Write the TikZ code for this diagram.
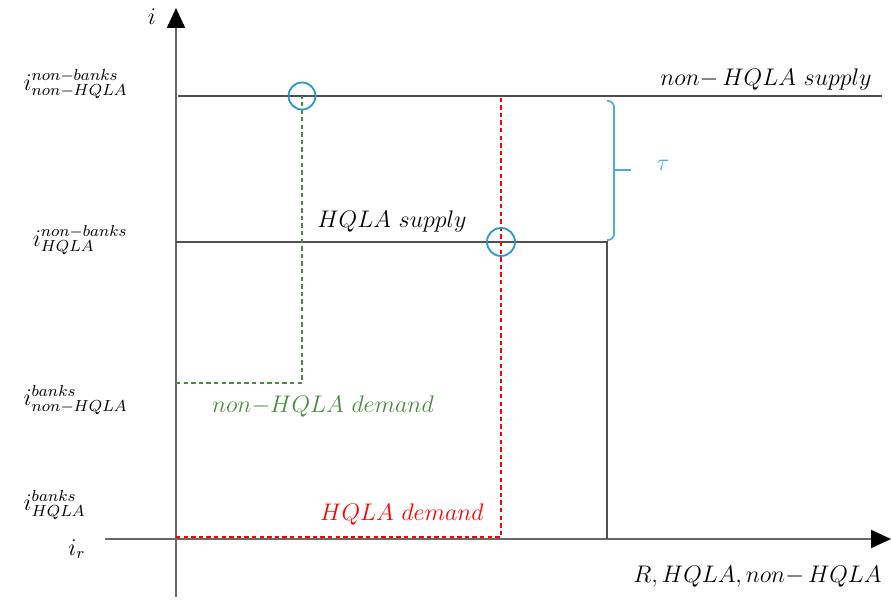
\documentclass[tikz,border=0pt]{standalone}
\usetikzlibrary{arrows.meta}
\definecolor{axisgrey}{RGB}{105,105,105}
\definecolor{linegrey}{RGB}{80,80,80}
\definecolor{demgreen}{RGB}{70,140,60}
\definecolor{eqblue}{RGB}{40,150,210}
\definecolor{taublue}{RGB}{80,170,225}
\tikzset{
  axis/.style={axisgrey, line width=1.1pt, -{Triangle[length=10pt,width=9pt,black]}},
  supply/.style={linegrey, line width=1pt},
  demand/.style={line width=0.8pt, dash pattern=on 2.2pt off 1.6pt},
  eqpoint/.style={eqblue, line width=0.9pt},
  lbl/.style={font=\large, inner sep=0pt}
}
\begin{document}
\begin{tikzpicture}[x=0.5pt, y=-0.5pt]
\useasboundingbox (0,0) rectangle (891,603);

% axes
\coordinate (O) at (176,539);
\coordinate (ytop) at (176,8);
\coordinate (ybot) at (176,597);
\coordinate (xleft) at (105,539);
\coordinate (xright) at (891,539);
\draw[axisgrey, line width=1.1pt] (ybot) -- (O);
\draw[axis] (O) -- (ytop);
\draw[axis] (xleft) -- (xright);
\node[lbl] (ilab) at (152,17) {$i$};
\node[lbl, anchor=east] (xlab) at (882,577) {$R, HQLA, non{-}\,HQLA$};

% interest rate levels
\node[lbl, anchor=east] (inhn) at (128,84) {$i^{non{-}banks}_{non{-}HQLA}$};
\node[lbl, anchor=east] (ihn) at (128,240) {$i^{non{-}banks}_{HQLA}$};
\node[lbl, anchor=east] (inhb) at (128,400) {$i^{banks}_{non{-}HQLA}$};
\node[lbl, anchor=east] (ihb) at (86,505) {$i^{banks}_{HQLA}$};
\node[lbl, anchor=east] (ir) at (86,549) {$i_r$};

% supply curves
\coordinate (nhs0) at (178,96);
\coordinate (nhs1) at (882,96);
\coordinate (hs0) at (176,242);
\coordinate (hs1) at (607,242);
\coordinate (hs2) at (607,539);
\draw[supply] (nhs0) -- (nhs1);
\draw[supply] (hs0) -- (hs1) -- (hs2);
\node[lbl, anchor=east] (nhslab) at (872,80) {$non{-}\,HQLA\ supply$};
\node[lbl] (hslab) at (392,222) {$HQLA\ supply$};

% demand curves
\begin{scope}[demand]
\coordinate (nhd0) at (176,383);
\coordinate (nhd1) at (302,383);
\coordinate (nhd2) at (302,96);
\draw[demgreen] (nhd0) -- (nhd1) -- (nhd2);
\coordinate (hd0) at (176,537);
\coordinate (hd1) at (501,537);
\coordinate (hd2) at (501,96);
\draw[red] (hd0) -- (hd1) -- (hd2);
\end{scope}
\node[lbl, text=demgreen] (nhdlab) at (323,407) {$non{-}HQLA\ demand$};
\node[lbl, text=red] (hdlab) at (402,515) {$HQLA\ demand$};

% equilibria
\draw[eqpoint] (nhd2) circle (13.5);
\draw[eqpoint] (hd1 |- hs1) circle (14);

% spread
\coordinate (tau0) at (607,101);
\coordinate (tau1) at (607,240);
\coordinate (taumid) at (614,170);
\draw[taublue, line width=0.9pt, rounded corners=3] (tau0) -- (tau0 -| taumid) -- (tau1 -| taumid) -- (tau1);
\draw[taublue, line width=0.9pt] (taumid) -- ++(17,0);
\node[lbl, text=taublue] (taulab) at (663,165) {$\tau$};
\end{tikzpicture}
\end{document}
